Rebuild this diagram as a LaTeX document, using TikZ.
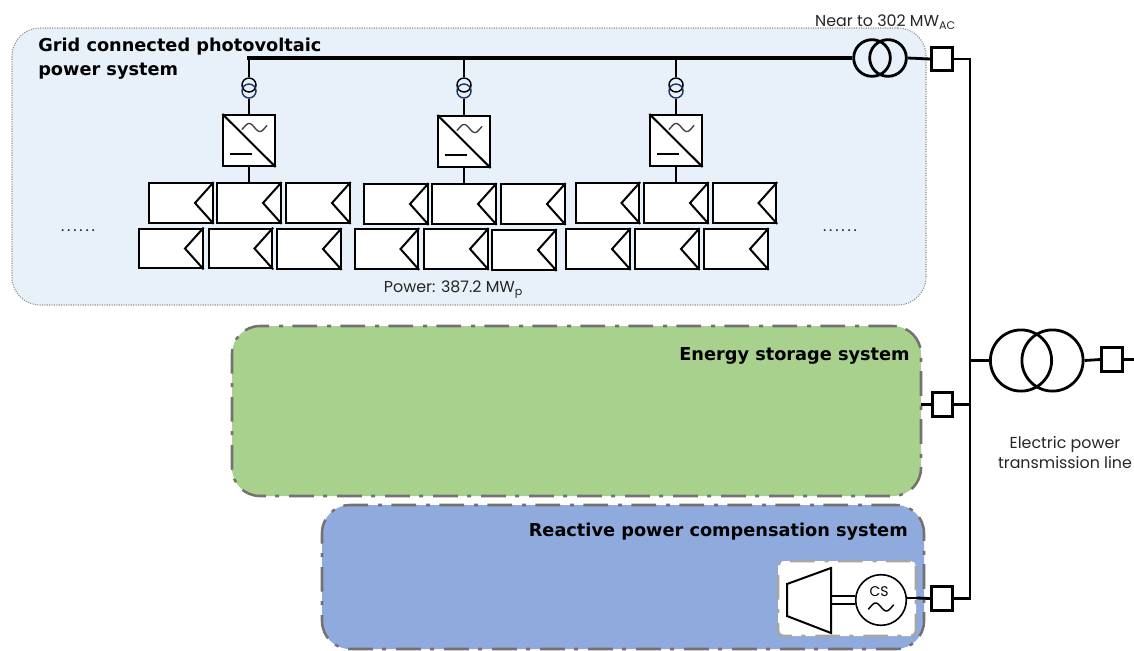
\documentclass[tikz,border=0pt]{standalone}
\usepackage{fontspec}
\setmainfont{Poppins}
\newfontfamily\boldf[BoldFont={DejaVu Sans Bold}]{DejaVu Sans}
\definecolor{pvfill}{HTML}{E8F0F9}
\definecolor{pvline}{HTML}{8C8C8C}
\definecolor{storefill}{HTML}{A9D18E}
\definecolor{reactfill}{HTML}{8FAADC}
\definecolor{regline}{HTML}{767171}
\definecolor{innerline}{HTML}{A6A6A6}
\definecolor{txfline}{HTML}{203864}
\newcommand{\dotrow}{.\kern2.1pt.\kern2.1pt.\kern2.1pt.\kern2.1pt.\kern2.1pt.}
\tikzset{
  x=0.75pt,y=-0.75pt,
  region/.style={draw=regline,line width=1.9pt,rounded corners=21pt,inner sep=0pt,
    dash pattern=on 18.5pt off 7pt on 3pt off 7.5pt},
  pvregion/.style={draw=pvline,fill=pvfill,line width=0.8pt,densely dotted,rounded corners=21pt,inner sep=0pt},
  modbox/.style={draw=black,fill=white,line width=1.5pt,inner sep=0pt,minimum width=47.5pt,minimum height=29.8pt},
  invbox/.style={draw=black,fill=white,line width=1.5pt,inner sep=0pt,minimum width=38.5pt,minimum height=38.3pt},
  breaker/.style={draw=black,fill=white,line width=2.1pt,inner sep=0pt,minimum width=15.5pt,minimum height=17.5pt},
  txsmallA/.style={circle,draw=black,line width=1.1pt,inner sep=0pt,minimum size=10.5pt},
  txsmallB/.style={circle,draw=txfline,line width=1.1pt,inner sep=0pt,minimum size=10.5pt},
  txbig/.style={circle,draw=black,line width=2.1pt,inner sep=0pt},
  wire/.style={draw=black,line width=1.4pt},
  thickwire/.style={draw=black,line width=2.1pt,line join=miter},
  busbar/.style={draw=black,line width=2.4pt},
  lbl/.style={inner sep=0pt,font=\fontsize{11.9pt}{15pt}\selectfont,text=black!85},
  head/.style={inner sep=0pt,font=\boldf\bfseries\fontsize{13.3pt}{18pt}\selectfont,align=left},
}
\begin{document}
\begin{tikzpicture}
\useasboundingbox (0,0) rectangle (1134,650);
% regions
\node[pvregion,minimum width=685.5pt,minimum height=207.75pt] (pv) at (469,166.5) {};
\node[region,fill=storefill,minimum width=516.75pt,minimum height=127.5pt] (store) at (576.5,411) {};
\node[region,fill=reactfill,minimum width=451.5pt,minimum height=108pt] (react) at (623,577) {};
\node[draw=innerline,fill=white,line width=1.9pt,rounded corners=4pt,inner sep=0pt,
  dash pattern=on 18.5pt off 7pt on 3pt off 7.5pt,minimum width=103.5pt,minimum height=56.25pt] (inner) at (847,598.5) {};
% labels
\node[head,anchor=north west] (t1) at (38,38) {\textbf{Grid connected photovoltaic}\\\textbf{power system}};
\node[head,anchor=east] (t2) at (910,356) {\textbf{Energy storage system}};
\node[head,anchor=east] (t3) at (908,532) {\textbf{Reactive power compensation system}};
\node[lbl,anchor=center] (t4) at (453.5,289.5) {Power: 387.2 MW\textsubscript{p}};
\node[lbl,anchor=center] (t5) at (885.5,22) {Near to 302 MW\textsubscript{AC}};
\node[lbl,align=center] (t6) at (1065,453) {Electric power\\transmission line};
\node[lbl] (d1) at (78,231) {\dotrow};
\node[lbl] (d2) at (840,231) {\dotrow};
% modules
\foreach \n/\cx/\cy in {
  a1/181/203,a2/249/203,a3/318/203,a4/171/248.5,a5/240.5/248.5,a6/309/249,
  b1/396/204,b2/464/204,b3/533/204,b4/386.5/249,b5/456/249,b6/524/250,
  c1/607.5/203,c2/676/203,c3/744.5/203,c4/598/249,c5/667/249,c6/736/249}{
  \node[modbox] (\n) at (\cx,\cy) {};
  \draw[line width=1.5pt,line join=miter] (\n.north east) -- ([xshift=-14pt]\n.center -| \n.east) -- (\n.south east);
}
% bus and feeders
\coordinate (busL) at (249,58);
\node[circle,draw=black,line width=2.1pt,inner sep=0pt,minimum size=27.5pt] (M1) at (872,58) {};
\node[circle,draw=black,line width=2.1pt,inner sep=0pt,minimum size=27.5pt] (M2) at (888,58) {};
\draw[busbar] (M1.west) -- (busL) -- ++(0,2);
\foreach \n/\x/\y in {a/249/115,b/464/116,c/676/115}{
  \node[invbox] (\n inv) at (\x,\y+25.5) {};
  \draw[line width=1.5pt] (\n inv.north west) -- (\n inv.south east);
  \draw[line width=1.2pt] ([shift={(-19,13.5)}]\n inv.center) -- ++(22,0);
  \begin{scope}[shift={(\n inv.center)}]
    \draw[line width=1pt,draw=black!75,line cap=round] plot[domain=-30:390,samples=40,smooth] ({-7+(\x+30)/420*25},{-13-4*sin(\x)});
  \end{scope}
  \node[txsmallA] (\n u) at (\x,85) {};
  \node[txsmallB] (\n l) at (\x,91) {};
  \coordinate (\n bus) at (\x,58);
  \draw[wire] (\n bus) -- (\n u.north);
  \draw[wire] (\n l.south) -- (\n inv.north);
}
\draw[wire] (ainv.south) -- (a2.north);
\draw[wire] (binv.south) -- (b2.north);
\draw[wire] (cinv.south) -- (c2.north);
% right side
\node[breaker] (B1) at (942,59) {};
\node[breaker] (B2) at (942.5,404.5) {};
\node[breaker] (B3) at (942,598.5) {};
\node[breaker] (B4) at (1112,359.5) {};
\coordinate (j1) at (970,59);
\coordinate (j3) at (970,598.5);
\coordinate (j2) at (970,404.5);
\coordinate (j4) at (970,360.5);
\coordinate (endR) at (1134,359.5);
\coordinate (store-e) at (921,404.5);
\draw[thickwire] (M2.east) -- (B1.west);
\draw[thickwire] (B1.east) -- (j1) -- (j3) -- (B3.east);
\draw[thickwire] (store-e) -- (B2.west);
\draw[thickwire] (B2.east) -- (j2);
\node[txbig,minimum size=45.9pt] (T1) at (1021,360.5) {};
\node[txbig,minimum size=45.9pt] (T2) at (1052.5,360.5) {};
\draw[thickwire] (j4) -- (T1.west);
\draw[thickwire] (T2.east) -- (B4.west);
\draw[thickwire] (B4.east) -- (endR);
% compensator
\node[circle,draw=black,fill=white,line width=1.2pt,inner sep=0pt,minimum size=38pt] (cs) at (881,600) {};
\node[inner sep=0pt,font=\fontsize{10.5pt}{12pt}\selectfont] (cslbl) at (879,592) {CS};
\begin{scope}[shift={(cs.center)}]
  \draw[line width=1.1pt,line cap=round] plot[domain=-30:390,samples=40,smooth] ({-12.5+(\x+30)/420*25},{7-4*sin(\x)});
\end{scope}
\draw[line width=1.5pt,line join=miter] (787,584) -- (831,568) -- (831,633) -- (787,616) -- cycle;
\coordinate (tu) at (831,596);
\coordinate (tl) at (831,604);
\draw[line width=1.2pt] (tu) -- (tu -| cs.west);
\draw[line width=1.2pt] (tl) -- (tl -| cs.west);
\coordinate (csr) at (917,598);
\draw[line width=0.9pt] (cs.east |- csr) -- (csr);
\draw[thickwire] (csr) -- (B3.west);
\end{tikzpicture}
\end{document}
